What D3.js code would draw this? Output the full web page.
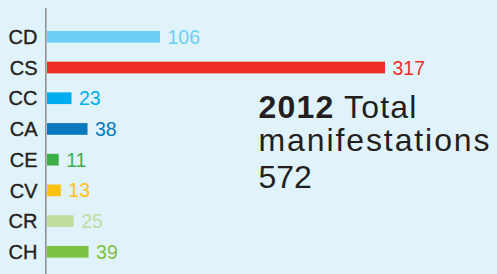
<!DOCTYPE html>
<html>
<head>
<meta charset="utf-8">
<script src="https://cdn.jsdelivr.net/npm/d3@7"></script>
<style>
    html, body { margin: 0; padding: 0; background: #e1f3fa; }
    svg { display: block; font-family: "Liberation Sans", Arial, Helvetica, sans-serif; }
</style>
</head>
<body>
<svg class="chart" width="497" height="274"></svg>
<script>
var categories = ["CD", "CS", "CC", "CA", "CE", "CV", "CR", "CH"];
var values = [106, 317, 23, 38, 11, 13, 25, 39];
var colors = ["#6dcff6", "#ee2e24", "#00aeef", "#0a78bf", "#3dae4a", "#ffc20e", "#bfdd9d", "#7dc143"];
var totalYear = "2012";
var totalLabel = ["Total", "manifestations"];
var totalValue = 572;

var svgW = 497;
var svgH = 274;
var barH = 11.7;

var svg = d3.select("svg.chart");

svg.append("rect")
    .attr("width", svgW)
    .attr("height", svgH)
    .attr("fill", "#e1f3fa");

var xScale = d3.scaleLinear()
    .domain([0, d3.max(values)])
    .range([47, 385]);

var yScale = d3.scalePoint()
    .domain(categories)
    .range([36.8, 251.8]);

// vertical axis line
svg.append("line")
    .attr("x1", 45.8)
    .attr("x2", 45.8)
    .attr("y1", 8)
    .attr("y2", svgH)
    .attr("stroke", "#8c8c8c")
    .attr("stroke-width", 1.5);

var rows = svg.selectAll("g.row")
    .data(categories)
    .enter()
    .append("g")
    .classed("row", true);

rows.append("rect")
    .attr("x", xScale(0))
    .attr("y", function (d) { return yScale(d) - barH / 2; })
    .attr("width", function (d, i) { return xScale(values[i]) - xScale(0); })
    .attr("height", barH)
    .attr("fill", function (d, i) { return colors[i]; });

rows.append("text")
    .attr("x", 37.5)
    .attr("y", function (d) { return yScale(d); })
    .attr("dy", "0.36em")
    .attr("text-anchor", "end")
    .attr("font-size", 20)
    .attr("fill", "#231f20")
    .attr("stroke", "#231f20")
    .attr("stroke-width", 0.35)
    .text(function (d) { return d; });

rows.append("text")
    .attr("x", function (d, i) { return xScale(values[i]) + 7.5; })
    .attr("y", function (d) { return yScale(d); })
    .attr("dy", "0.36em")
    .attr("font-size", 19.5)
    .attr("fill", function (d, i) { return colors[i]; })
    .text(function (d, i) { return values[i]; });

// total block
var totalG = svg.append("g")
    .attr("fill", "#231f20")
    .attr("font-size", 32);

var line1 = totalG.append("text")
    .attr("x", 258.5)
    .attr("y", 117.7)
    .attr("letter-spacing", 1.2);
line1.append("tspan")
    .attr("font-weight", "bold")
    .text(totalYear);
line1.append("tspan")
    .text(" " + totalLabel[0]);

totalG.append("text")
    .attr("x", 258.5)
    .attr("y", 151)
    .attr("letter-spacing", 1.9)
    .text(totalLabel[1]);

totalG.append("text")
    .attr("x", 258.5)
    .attr("y", 188.3)
    .text(totalValue);
</script>
</body>
</html>
